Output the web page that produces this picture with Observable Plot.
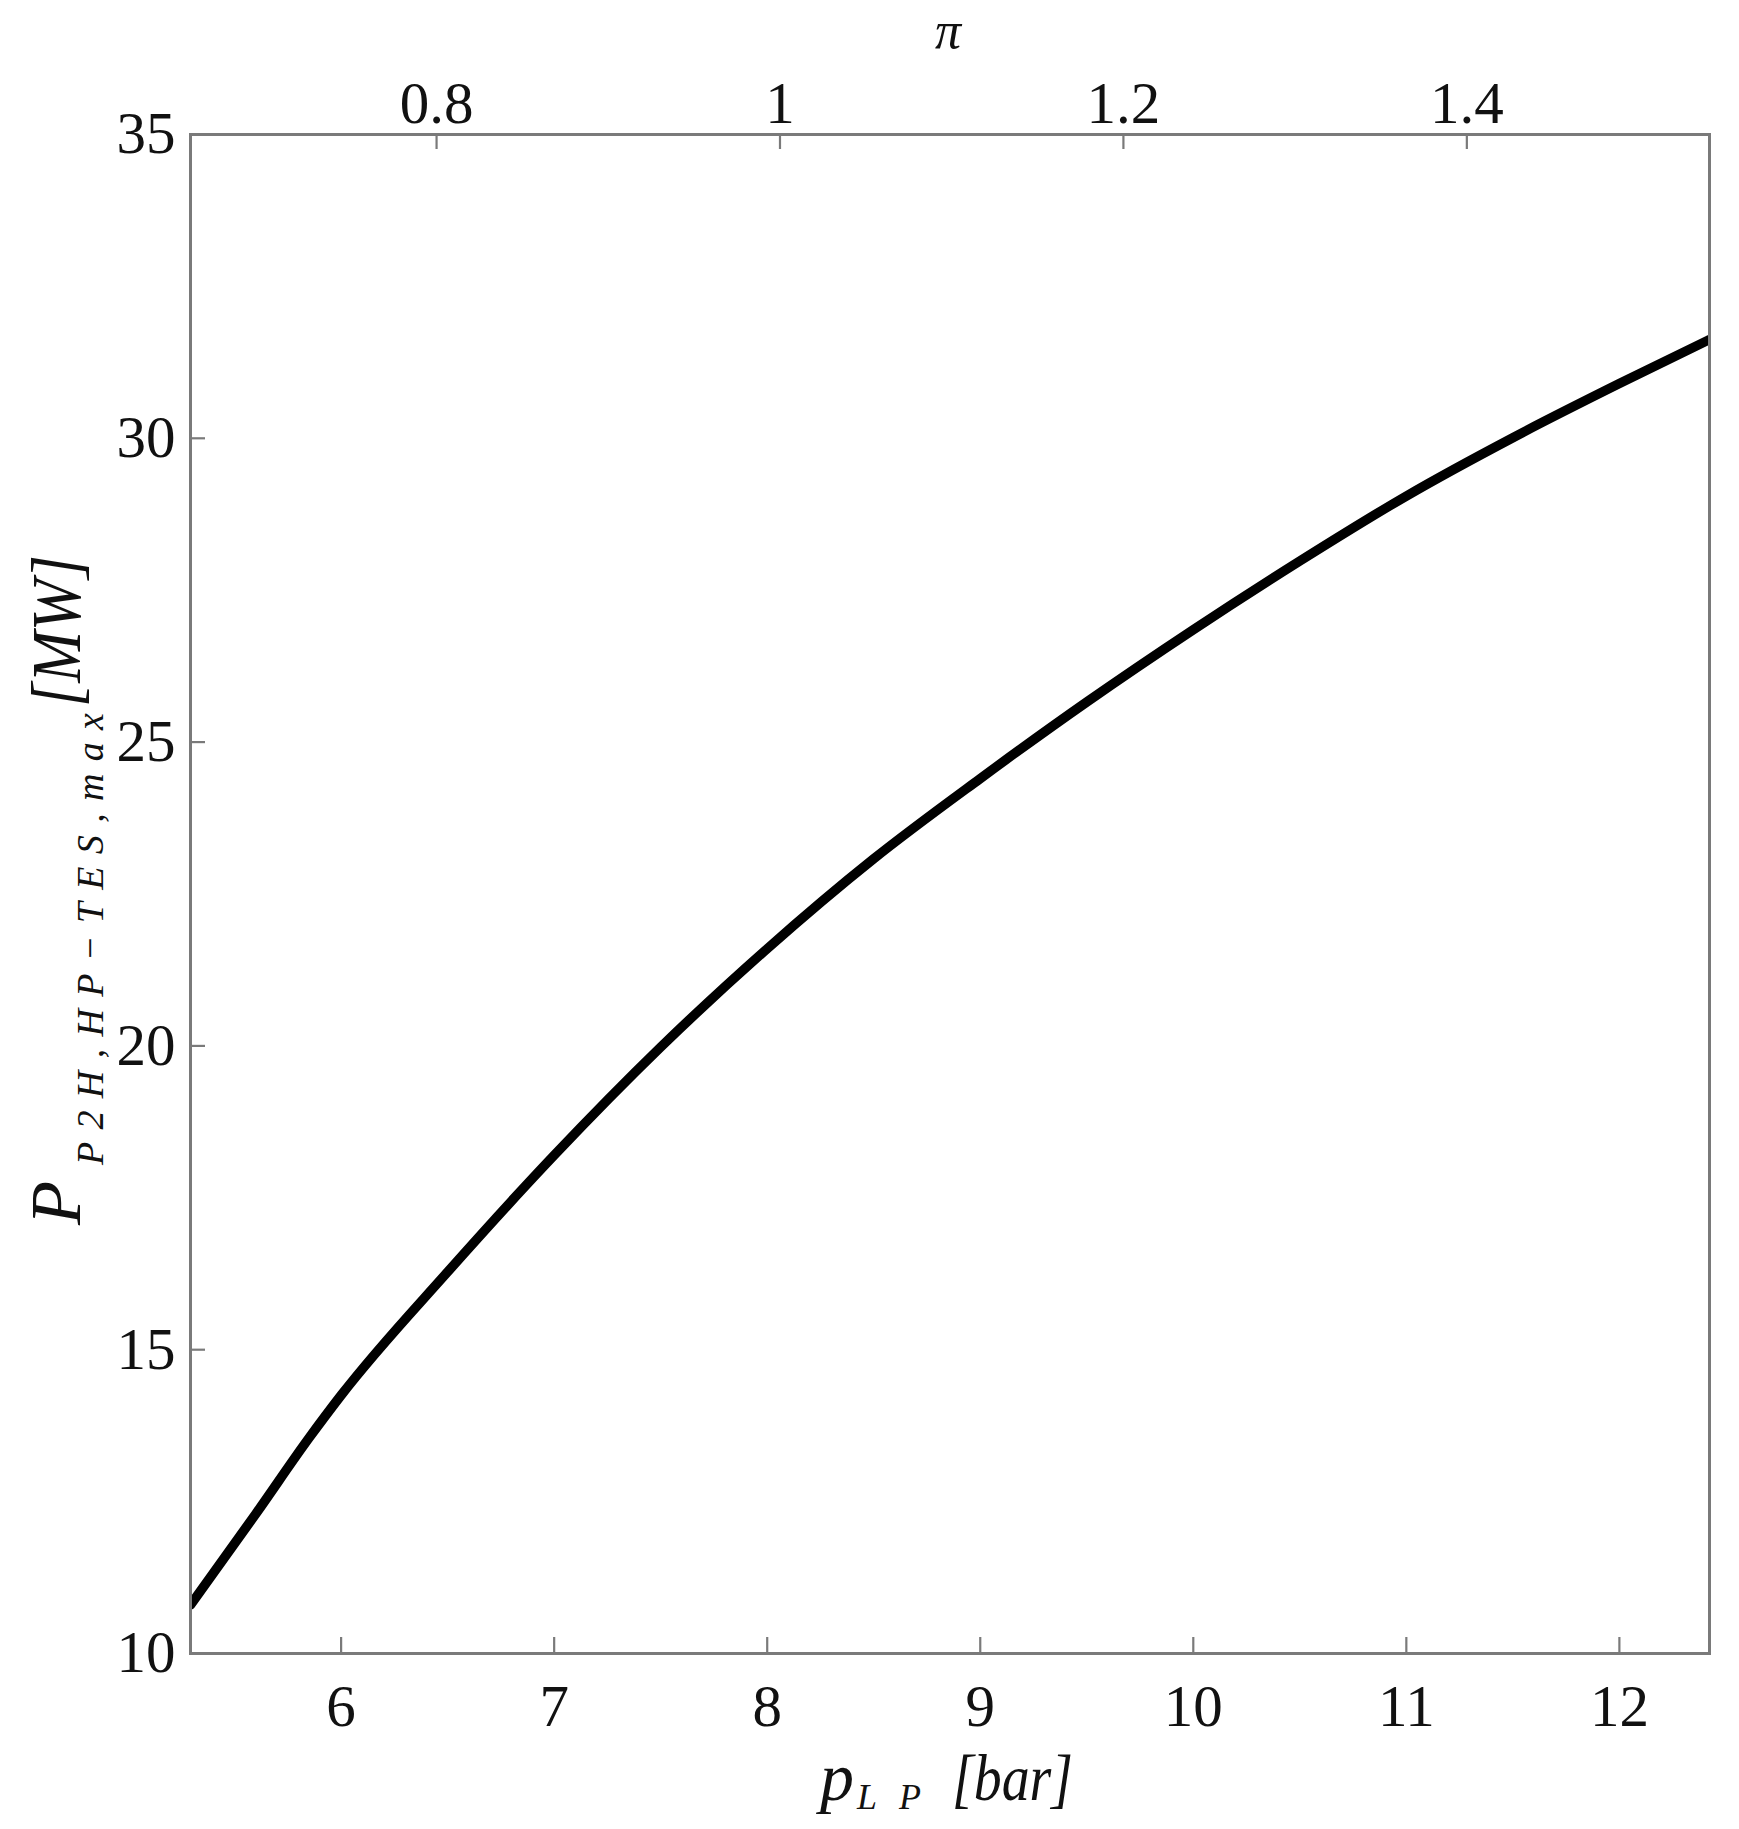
<!DOCTYPE html>
<html>
<head>
<meta charset="utf-8">
<script src="https://cdn.jsdelivr.net/npm/d3@7"></script>
<script src="https://cdn.jsdelivr.net/npm/@observablehq/plot@0.6"></script>
<style>
  html, body { margin: 0; padding: 0; background: #fff; }
</style>
</head>
<body>
<div id="chart"></div>
<script>
// Data
const pLP   = [5.293, 5.6, 5.85, 6.0, 6.5, 7.0, 7.5, 8.0, 8.5, 9.0, 9.5, 10.0, 10.5, 11.0, 11.5, 12.0, 12.42];
const Pmax  = [10.8, 12.3, 13.55, 14.25, 16.28, 18.2, 19.98, 21.6, 23.08, 24.4, 25.66, 26.85, 27.98, 29.05, 30.01, 30.9, 31.62];
const xTicks = [6, 7, 8, 9, 10, 11, 12];
const yTicks = [10, 15, 20, 25, 30, 35];
const piTicks = [0.8, 1, 1.2, 1.4];
const piRef = 8.06; // p_LP [bar] at which pi = 1
const xDomain = [5.293, 12.423];
const yDomain = [10, 35];

const data = pLP.map((p, i) => ({p, P: Pmax[i]}));

const W = 1739, H = 1829;
const mL = 190, mR = 30, mT = 134, mB = 176;
const plotW = W - mL - mR, plotH = H - mT - mB;
const gray = "#7a7a7a";
const serif = "'Liberation Serif', 'Times New Roman', serif";

const chart = Plot.plot({
  width: W, height: H,
  marginLeft: mL, marginRight: mR, marginTop: mT, marginBottom: mB,
  style: {fontFamily: serif, background: "#fff", color: "#111"},
  x: {domain: xDomain},
  y: {domain: yDomain},
  marks: [
    Plot.axisX(xTicks, {anchor: "bottom", tickSize: 0, tickPadding: 31, fontSize: 59, label: null, tickFormat: d => String(d)}),
    Plot.axisX(piTicks.map(t => t * piRef), {anchor: "top", tickSize: 0, tickPadding: 12, fontSize: 59, label: null,
      tickFormat: d => String(+(d / piRef).toFixed(1))}),
    Plot.axisY(yTicks, {anchor: "left", tickSize: 0, tickPadding: 15, fontSize: 59, label: null, tickFormat: d => String(d)}),
    Plot.tickX(xTicks, {x: d => d, insetTop: plotH - 16, stroke: gray, strokeWidth: 2.2}),
    Plot.tickX(piTicks, {x: d => d * piRef, insetBottom: plotH - 15, stroke: gray, strokeWidth: 2.2}),
    Plot.tickY(yTicks.slice(1, -1), {y: d => d, insetRight: plotW - 15, stroke: gray, strokeWidth: 2.2}),
    Plot.line(data, {x: "p", y: "P", stroke: "#000", strokeWidth: 9.5, curve: "monotone-x", clip: true}),
    Plot.frame({stroke: gray, strokeWidth: 3})
  ]
});

document.getElementById("chart").appendChild(chart);

// Axis titles with sub-scripts (text only, drawn as SVG text)
const svg = d3.select(chart);
const it = (sel) => sel.attr("font-family", serif).attr("font-style", "italic")
  .attr("fill", "#111").attr("text-anchor", "start");

// top title: pi
it(svg.append("text")).attr("x", 948).attr("y", 48).attr("text-anchor", "middle")
  .attr("font-size", 52).text("π");

// bottom label: p_{LP} [bar]
it(svg.append("text")).attr("x", 820).attr("y", 1800).attr("font-size", 68).text("p");
it(svg.append("text")).attr("x", 857).attr("y", 1809).attr("font-size", 36)
  .attr("textLength", 64).attr("lengthAdjust", "spacing").text("L P");
it(svg.append("text")).attr("x", 952).attr("y", 1800).attr("font-size", 66)
  .attr("textLength", 121).attr("lengthAdjust", "spacingAndGlyphs").text("[bar]");

// left label: P_{P2H,HP-TES,max} [MW]
const g = svg.append("g").attr("transform", "translate(80,1225) rotate(-90)");
it(g.append("text")).attr("x", 0).attr("y", 0).attr("font-size", 72).text("P");
it(g.append("text")).attr("x", 60).attr("y", 23).attr("font-size", 38)
  .attr("textLength", 452).attr("lengthAdjust", "spacing").text("P2H,HP−TES,max");
it(g.append("text")).attr("x", 518).attr("y", 0).attr("font-size", 70)
  .attr("textLength", 152).attr("lengthAdjust", "spacingAndGlyphs").text("[MW]");
</script>
</body>
</html>
